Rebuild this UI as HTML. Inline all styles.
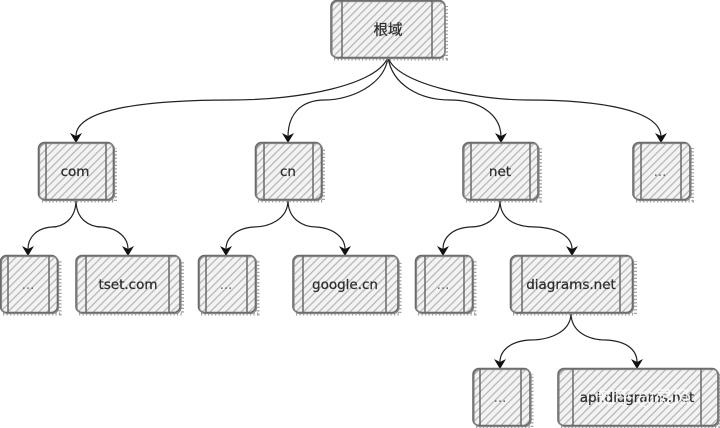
<!DOCTYPE html>
<html><head><meta charset="utf-8"><style>
html,body{margin:0;padding:0;background:#fff;width:720px;height:428px;overflow:hidden}
svg{display:block}
.f{fill:url(#h)}
.s{fill:none;stroke:#6a6a6a;stroke-width:1.6}
.t{fill:none;stroke:#858585;stroke-width:1.2}
.i{stroke:#6a6a6a;stroke-width:1.5;fill:none}
.d{fill:none;stroke:#a2a2a2;stroke-width:3;stroke-dasharray:1.2 2.3}
.c{fill:none;stroke:#222;stroke-width:1.2}
text{font-family:"DejaVu Sans","Liberation Sans","Noto Sans CJK SC",sans-serif;font-size:13.5px;fill:#2e2e2e;stroke:#2e2e2e;stroke-width:.25;text-anchor:middle}
</style></head><body>
<svg width="720" height="428" viewBox="0 0 720 428" xmlns="http://www.w3.org/2000/svg">
<defs>
<pattern id="h" width="5.500" height="5.500" patternUnits="userSpaceOnUse" patternTransform="rotate(45)">
<rect width="5.500" height="5.500" fill="#f3f3f3"/><rect width="1.200" height="5.500" fill="#b4b4b4"/>
</pattern>
</defs>

<!-- connectors -->
<path class="c" d="M388 57C378 85 300 100 232 100C140 100 76 110 76 136"/>
<path class="c" d="M388 57C385 85 350 100 325 100C300 100 288 115 288 137"/>
<path class="c" d="M388 57C392 85 420 100 450 100C480 100 501 115 501 137"/>
<path class="c" d="M388 57C396 85 480 100 527 100C600 100 661 110 661 137"/>
<path class="c" d="M76 200C76 220 62 227 52 227C36 228 28 238 28 249"/>
<path class="c" d="M76 200C76 220 90 227 102 227C118 228 128 238 128 249"/>
<path class="c" d="M288 200C288 220 268 227 254 227C236 228 226 238 226 249"/>
<path class="c" d="M288 200C288 220 304 227 316 227C334 228 345 238 345 249"/>
<path class="c" d="M500 200C500 220 484 227 470 227C452 228 443 238 443 249"/>
<path class="c" d="M500 200C500 220 516 227 536 227C560 228 572 238 572 249"/>
<path class="c" d="M571 313C571 333 548 340 530 340C510 341 500 351 500 362"/>
<path class="c" d="M571 313C571 333 590 340 606 340C628 341 637 351 637 362"/>
<g fill="#111">
<path d="M70 133L76 143L82 133L76 136Z"/>
<path d="M282 133L288 143L294 133L288 136Z"/>
<path d="M495 133L501 143L507 133L501 136Z"/>
<path d="M655 133L661 143L667 133L661 136Z"/>
<path d="M22 246L28 256L34 246L28 249Z"/>
<path d="M122 246L128 256L134 246L128 249Z"/>
<path d="M220 246L226 256L232 246L226 249Z"/>
<path d="M339 246L345 256L351 246L345 249Z"/>
<path d="M437 246L443 256L449 246L443 249Z"/>
<path d="M566 246L572 256L578 246L572 249Z"/>
<path d="M494 359L500 369L506 359L500 362Z"/>
<path d="M631 359L637 369L643 359L637 362Z"/>
</g>

<!-- root -->
<rect class="f" x="331" y="0" width="114" height="58" rx="6"/>
<path class="d" d="M334 59H446.500V6"/>
<rect class="s" x="331" y="0.500" width="114" height="57" rx="6"/>
<rect class="t" x="332" y="1.500" width="113" height="57" rx="6"/>
<path class="i" d="M342 0V58M432 0V58"/>
<text x="388" y="35" style="font-size:14.500px">根域</text>

<!-- row 2 -->
<rect class="f" x="39" y="142" width="75" height="58" rx="6"/>
<path class="d" d="M42 201H115.500V148"/>
<rect class="s" x="38.500" y="142.500" width="75" height="57" rx="6"/>
<rect class="t" x="39.500" y="143.500" width="75" height="57" rx="6"/>
<path class="i" d="M46 142V200M106 142V200"/>
<text x="75" y="176">com</text>

<rect class="f" x="255" y="142" width="67" height="58" rx="6"/>
<path class="d" d="M258 201H323.500V148"/>
<rect class="s" x="255.500" y="142.500" width="66" height="57" rx="6"/>
<rect class="t" x="256.500" y="143.500" width="66" height="57" rx="6"/>
<path class="i" d="M264 142V200M313 142V200"/>
<text x="288" y="176">cn</text>

<rect class="f" x="463" y="142" width="76" height="58" rx="6"/>
<path class="d" d="M466 201H540.500V148"/>
<rect class="s" x="463" y="142.500" width="75" height="57" rx="6"/>
<rect class="t" x="464" y="143.500" width="75" height="57" rx="6"/>
<path class="i" d="M471 142V200M530 142V200"/>
<text x="500" y="176">net</text>

<rect class="f" x="633" y="142" width="57" height="58" rx="6"/>
<path class="d" d="M636 201H692.500V148"/>
<rect class="s" x="633" y="142.500" width="57" height="57" rx="6"/>
<rect class="t" x="634" y="143.500" width="57" height="57" rx="6"/>
<path class="i" d="M641 142V200M681 142V200"/>
<text x="660" y="176" style="stroke:none;fill:#666">...</text>

<!-- row 3 -->
<rect class="f" x="0" y="255" width="58" height="58" rx="6"/>
<path class="d" d="M3 314H60V261"/>
<rect class="s" x="0.500" y="255.500" width="57" height="57" rx="6"/>
<rect class="t" x="1.500" y="256.500" width="57" height="57" rx="6"/>
<path class="i" d="M8 255V313M49 255V313"/>
<text x="28" y="289" style="stroke:none;fill:#666">...</text>

<rect class="f" x="76" y="255" width="105" height="58" rx="6"/>
<path class="d" d="M79 314H182.500V261"/>
<rect class="s" x="76" y="255.500" width="104" height="57" rx="6"/>
<rect class="t" x="77" y="256.500" width="104" height="57" rx="6"/>
<path class="i" d="M86 255V313M169 255V313"/>
<text x="128" y="289">tset.com</text>

<rect class="f" x="198" y="255" width="58" height="58" rx="6"/>
<path class="d" d="M201 314H258V261"/>
<rect class="s" x="198.500" y="255.500" width="57" height="57" rx="6"/>
<rect class="t" x="199.500" y="256.500" width="57" height="57" rx="6"/>
<path class="i" d="M206 255V313M247 255V313"/>
<text x="226" y="289" style="stroke:none;fill:#666">...</text>

<rect class="f" x="293" y="255" width="106" height="58" rx="6"/>
<path class="d" d="M296 314H400V261"/>
<rect class="s" x="293" y="255.500" width="105" height="57" rx="6"/>
<rect class="t" x="294" y="256.500" width="105" height="57" rx="6"/>
<path class="i" d="M303 255V313M386 255V313"/>
<text x="345" y="289">google.cn</text>

<rect class="f" x="415" y="255" width="58" height="58" rx="6"/>
<path class="d" d="M418 314H475V261"/>
<rect class="s" x="415.500" y="255.500" width="57" height="57" rx="6"/>
<rect class="t" x="416.500" y="256.500" width="57" height="57" rx="6"/>
<path class="i" d="M425 255V313M464 255V313"/>
<text x="443" y="289" style="stroke:none;fill:#666">...</text>

<rect class="f" x="510" y="255" width="124" height="58" rx="6"/>
<path class="d" d="M513 314H635.500V261"/>
<rect class="s" x="510.500" y="255.500" width="122" height="57" rx="6"/>
<rect class="t" x="511.500" y="256.500" width="122" height="57" rx="6"/>
<path class="i" d="M522 255V313M620 255V313"/>
<text x="571" y="289">diagrams.net</text>

<!-- row 4 -->
<rect class="f" x="473" y="368" width="57" height="58" rx="6"/>
<path class="d" d="M476 427H532V374"/>
<rect class="s" x="473" y="368.500" width="57" height="57" rx="6"/>
<rect class="t" x="474" y="369.500" width="57" height="57" rx="6"/>
<path class="i" d="M480 368V426M521 368V426"/>
<text x="500" y="402" style="stroke:none;fill:#666">...</text>

<rect class="f" x="558" y="368" width="160" height="58" rx="6"/>
<path class="d" d="M561 427H719.500V374"/>
<rect class="s" x="558" y="368.500" width="160" height="57" rx="6"/>
<rect class="t" x="559" y="369.500" width="160" height="57" rx="6"/>
<path class="i" d="M573 368V426M701 368V426"/>
<text x="637" y="402">api.diagrams.net</text>

<!-- watermark -->
<text x="644" y="404" style="font-size:18px;fill:#fff;fill-opacity:.8;stroke:none;font-family:'Noto Sans CJK SC',sans-serif">知乎 @灵风</text>
</svg>
</body></html>
